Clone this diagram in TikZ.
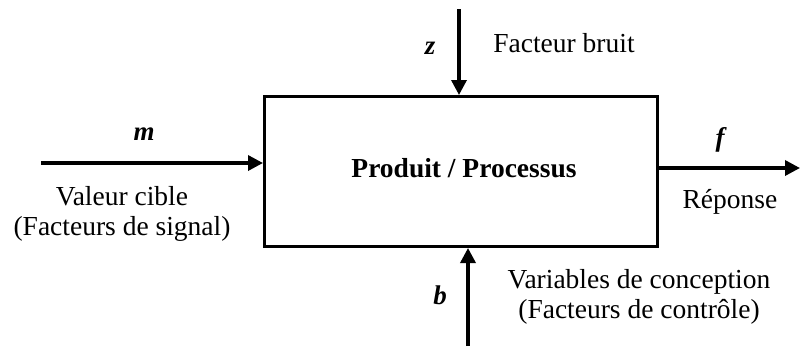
\documentclass[tikz,border=0pt]{standalone}
\usepackage{fontspec}
\setmainfont{Liberation Serif}
\usetikzlibrary{arrows.meta}
\begin{document}
\begin{tikzpicture}[x=1pt,y=-1pt,
  lbl/.style={font=\fontsize{27.5}{30}\selectfont, inner sep=0pt, align=center},
  var/.style={font=\fontsize{27}{30}\selectfont\bfseries\itshape, inner sep=0pt},
  flow/.style={line width=3.4pt, -{Triangle[length=15pt,width=15pt]}}]
\useasboundingbox (0,0) rectangle (800,349);
% process box
\node[draw, line width=3pt, minimum width=393pt, minimum height=150pt, inner sep=0pt,
      anchor=north west] (box) at (263,95) {};
\node[font=\fontsize{27.5}{30}\selectfont\bfseries, inner sep=0pt] (title) at (464,168) {Produit / Processus};
% end points of the connectors
\coordinate (in) at (41,163);
\coordinate (noise) at (459,9);
\coordinate (ctrl) at (468,346);
\coordinate (out) at (800,168);
% connectors
\draw[flow] (in) -- (in -| box.west);
\draw[flow] (noise) -- (noise |- box.north);
\draw[flow] (ctrl) -- (ctrl |- box.south);
\draw[flow] (out -| box.east) -- (out);
% labels
\node[var] (m) at (144,134) {m};
\node[lbl] (signal) at (122,214) {Valeur cible\\(Facteurs de signal)};
\node[var] (z) at (430,48) {z};
\node[lbl] (bruit) at (564,43) {Facteur bruit};
\node[var] (f) at (720,140) {f};
\node[lbl] (rep) at (730,202) {Réponse};
\node[var] (b) at (440,295) {b};
\node[lbl] (conc) at (639,297) {Variables de conception\\(Facteurs de contrôle)};
\end{tikzpicture}
\end{document}
